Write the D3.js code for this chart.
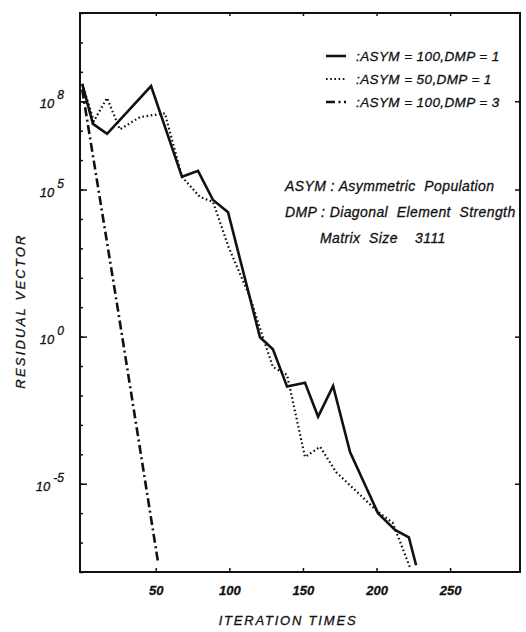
<!DOCTYPE html>
<html>
<head>
<meta charset="utf-8">
<script src="https://cdnjs.cloudflare.com/ajax/libs/d3/7.8.5/d3.min.js"></script>
<style>
body { margin: 0; background: #fff; }
text { font-family: "Liberation Sans", Arial, sans-serif; font-style: italic; fill: #111; stroke: #111; stroke-width: 0.3px; }
.axis path { display: none; }
.axis line { stroke: #111; stroke-width: 1.5px; }
.frame { fill: none; stroke: #111; stroke-width: 2px; }
.line { fill: none; stroke: #111; }
</style>
</head>
<body>
<svg id="chart" width="526" height="632"></svg>
<script>
// ASYM=100, DMP=1 (solid)
var iterSolid = [0, 7.3, 16.9, 46.8, 67.8, 78.7, 88.9, 99.1, 120.8, 129.6, 139.2, 151.4, 160.3, 170.5, 182, 201, 212.6, 222, 226.9];
var resSolid  = [3.9e8, 1.7e7, 7.8e6, 3.3e8, 2.7e5, 4.3e5, 4.4e4, 1.7e4, 0.95, 0.37, 0.02, 0.027, 1.9e-3, 0.021, 1.2e-4, 1e-6, 2.7e-7, 1.5e-7, 1.7e-8];
// ASYM=50, DMP=1 (dotted)
var iterDot = [0, 7.9, 16.9, 25.6, 39.2, 56.2, 67.8, 80, 88.9, 99.5, 114, 122.8, 129.6, 139.2, 151.4, 161.7, 172.5, 201, 211, 222.6];
var resDot  = [3.9e8, 2.1e7, 1.3e8, 1.1e7, 2.9e7, 3.9e7, 2.7e5, 5.6e4, 3.8e4, 1.1e3, 22, 0.95, 0.093, 0.05, 8.1e-5, 1.8e-4, 2.5e-5, 1.1e-6, 4.7e-7, 1.5e-8];
// ASYM=100, DMP=3 (dash-dot)
var iterDash = [0, 24, 51.5];
var resDash  = [2.5e8, 10, 2.2e-8];

var xTicks = [50, 100, 150, 200, 250];
var yLabelTicks = [1e8, 1e5, 1e0, 1e-5];
var yDecades = d3.range(-8, 12).map(function(e) { return Math.pow(10, e); });

var legendLabels = [":ASYM = 100,DMP = 1", ":ASYM = 50,DMP = 1", ":ASYM = 100,DMP = 3"];
var noteLines = ["ASYM : Asymmetric  Population", "DMP : Diagonal  Element  Strength", "Matrix  Size    3111"];

var svg = d3.select("svg"),
    plotL = 80, plotR = 520, plotT = 13, plotB = 572;

var x = d3.scaleLinear().domain([-1.5, 297.5]).range([plotL, plotR]);
var y = d3.scaleLog().domain([1e-8, 1e11]).range([plotB, plotT]);

var line = d3.line()
  .x(function(d) { return x(d[0]); })
  .y(function(d) { return y(d[1]); });

var series = [
  {name: legendLabels[0], pts: d3.zip(iterSolid, resSolid), width: 2.6, dash: null},
  {name: legendLabels[1], pts: d3.zip(iterDot, resDot), width: 2.2, dash: "1.6,2.6"},
  {name: legendLabels[2], pts: d3.zip(iterDash, resDash), width: 2.6, dash: "9,3.5,2,3.5"}
];

// minor decade ticks on left
svg.append("g")
  .attr("class", "axis")
  .attr("transform", "translate(" + plotL + ",0)")
  .call(d3.axisLeft(y).tickValues(yDecades).tickSize(-3).tickFormat(""));

// labelled left axis
var ya = svg.append("g")
  .attr("class", "axis")
  .attr("transform", "translate(" + plotL + ",0)")
  .call(d3.axisLeft(y).tickValues(yLabelTicks).tickSize(-7).tickPadding(16).tickFormat(""));

ya.selectAll(".tick text")
  .attr("dy", "0.5em")
  .style("font-size", "13px")
  .each(function(d) {
    var t = d3.select(this);
    t.append("tspan").text("10");
    t.append("tspan")
      .attr("dx", 3)
      .attr("dy", "-0.75em")
      .style("font-size", "12px")
      .text(Math.round(Math.log10(d)));
  });

// right axis ticks
svg.append("g")
  .attr("class", "axis")
  .attr("transform", "translate(" + plotR + ",0)")
  .call(d3.axisRight(y).tickValues(yLabelTicks).tickSize(-5).tickFormat(""));

// bottom axis
svg.append("g")
  .attr("class", "axis")
  .attr("transform", "translate(0," + plotB + ")")
  .call(d3.axisBottom(x).tickValues(xTicks).tickSize(-4).tickPadding(14))
  .selectAll("text")
  .style("font-size", "13px")
  .style("font-weight", "bold");

// top axis ticks
svg.append("g")
  .attr("class", "axis")
  .attr("transform", "translate(0," + plotT + ")")
  .call(d3.axisTop(x).tickValues(xTicks).tickSize(-3).tickFormat(""));

svg.append("rect")
  .attr("class", "frame")
  .attr("x", plotL).attr("y", plotT)
  .attr("width", plotR - plotL).attr("height", plotB - plotT);

svg.selectAll(".series")
  .data(series)
  .enter().append("path")
  .attr("class", "line")
  .attr("d", function(d) { return line(d.pts); })
  .style("stroke-width", function(d) { return d.width; })
  .style("stroke-dasharray", function(d) { return d.dash; });

// legend
var legend = svg.selectAll(".legend")
  .data(series)
  .enter().append("g")
  .attr("class", "legend")
  .attr("transform", function(d, i) { return "translate(326," + (56 + i * 23) + ")"; });

legend.append("line")
  .attr("x1", 0).attr("x2", 20)
  .style("stroke", "#111")
  .style("stroke-width", function(d) { return d.width; })
  .style("stroke-dasharray", function(d) { return d.dash; });

legend.append("text")
  .attr("x", 30)
  .attr("dy", "0.35em")
  .style("font-size", "13.5px")
  .style("letter-spacing", "0.4px")
  .text(function(d) { return d.name; });

// notes
svg.selectAll(".note")
  .data(noteLines)
  .enter().append("text")
  .attr("class", "note")
  .attr("x", function(d, i) { return i == 2 ? 320 : 285; })
  .attr("y", function(d, i) { return 186 + i * 26; })
  .attr("dy", "0.35em")
  .style("font-size", "14px")
  .style("letter-spacing", "0.4px")
  .style("white-space", "pre")
  .text(function(d) { return d; });

// axis titles
svg.append("text")
  .attr("transform", "translate(20,311) rotate(-90)")
  .attr("text-anchor", "middle")
  .attr("dy", "0.35em")
  .style("font-size", "13px")
  .style("letter-spacing", "2.2px")
  .text("RESIDUAL VECTOR");

svg.append("text")
  .attr("x", 288)
  .attr("y", 620)
  .attr("text-anchor", "middle")
  .attr("dy", "0.35em")
  .style("font-size", "13px")
  .style("letter-spacing", "1.8px")
  .text("ITERATION TIMES");
</script>
</body>
</html>
